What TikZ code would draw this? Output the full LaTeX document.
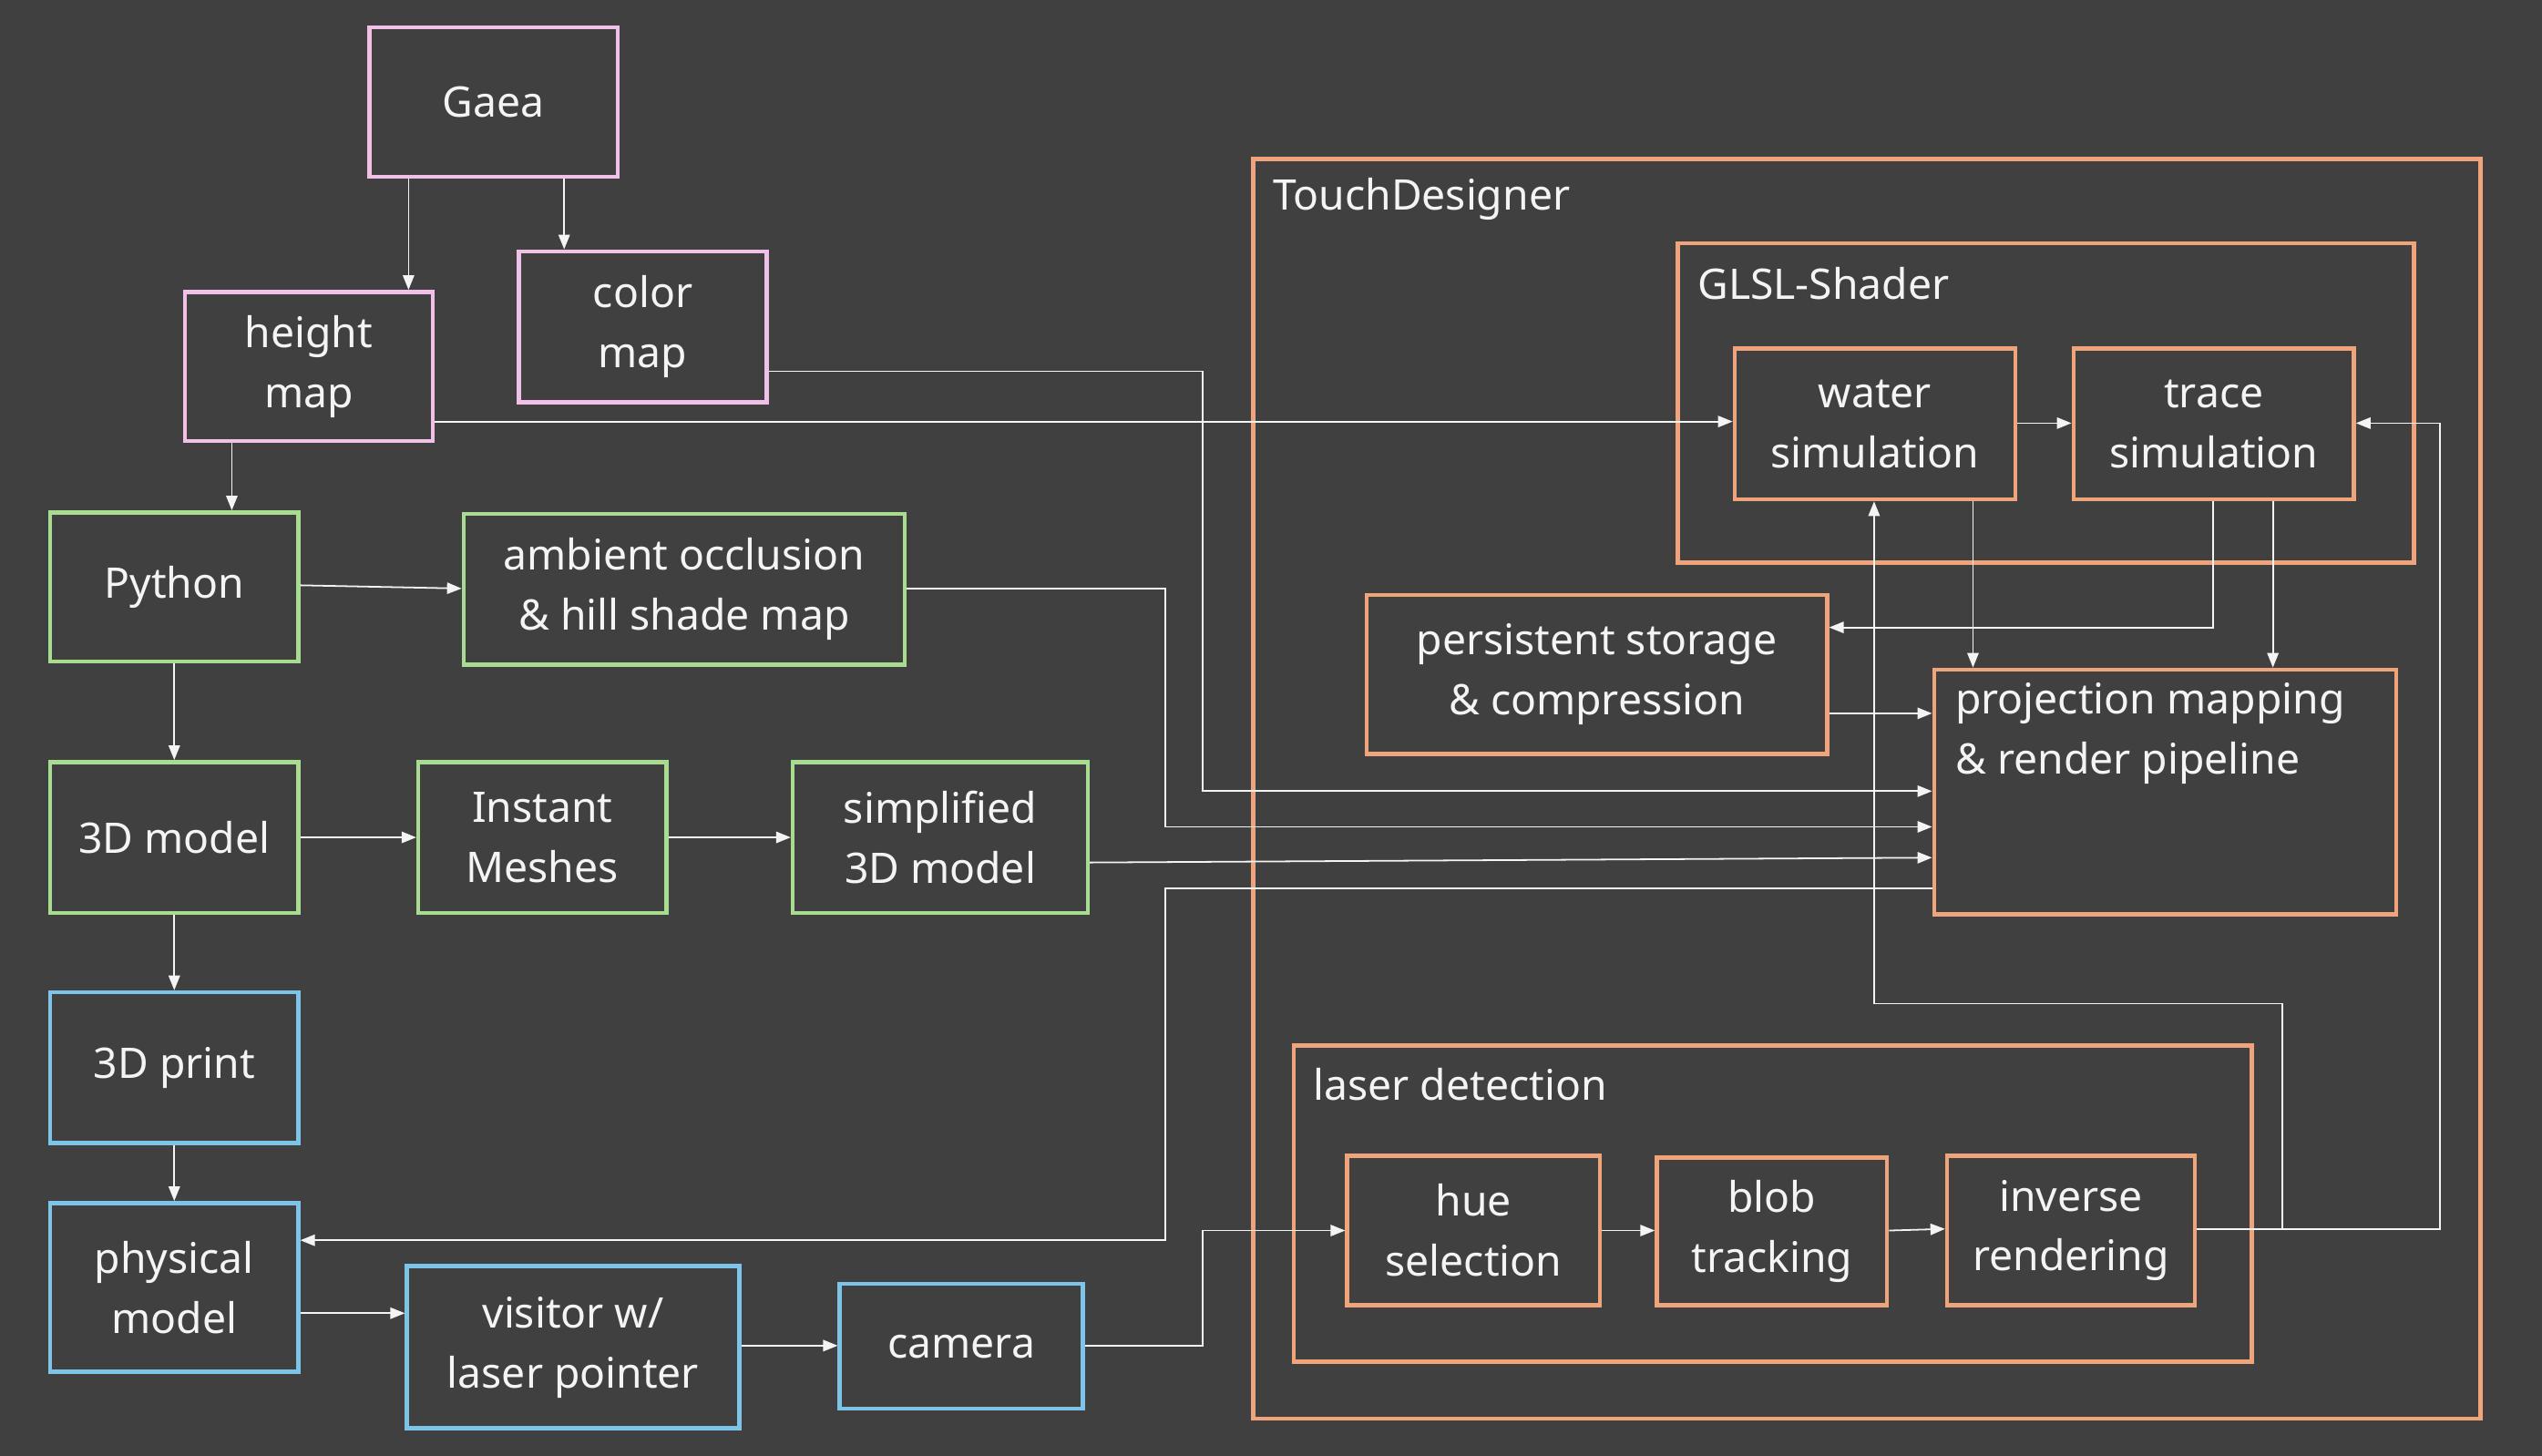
\documentclass[tikz,border=0pt]{standalone}
\usepackage{fontspec}
\setmainfont{Noto Sans}
\usetikzlibrary{arrows.meta}
\definecolor{bg}{HTML}{404040}
\definecolor{pk}{HTML}{F0C0E8}
\definecolor{gr}{HTML}{A8DC90}
\definecolor{bl}{HTML}{7CC4E8}
\definecolor{or}{HTML}{F0A47C}
\definecolor{tx}{HTML}{F4F4F4}
\newcommand{\bx}[7]{\node[box,draw=#6,minimum width={(#4-#2)*1pt},minimum height={(#5-#3)*1pt}] (#1) at ({(#2+#4)/2},{(#3+#5)/2}) {#7};}
\begin{document}
\begin{tikzpicture}[x=1pt,y=-1pt,
  box/.style={rectangle,line width=2.5pt,inner sep=0pt,text=tx,align=center,font=\fontsize{26}{37}\selectfont},
  lbl/.style={text=tx,anchor=west,inner sep=0pt,font=\fontsize{26}{37}\selectfont},
  ar/.style={draw=tx,line width=1pt,-{Triangle[length=9pt,width=7pt]}}]
\fill[bg] (0,0) rectangle (1568,898);
\useasboundingbox (0,0) rectangle (1568,898);
% containers
\draw[or,line width=2.5pt] (773,98) rectangle (1530,875);
\node[lbl] (tdl) at (785,123) {TouchDesigner};
\draw[or,line width=2.5pt] (1035,150) rectangle (1489,347);
\node[lbl] (gll) at (1047,175) {GLSL-Shader};
\draw[or,line width=2.5pt] (798,645) rectangle (1389,840);
\node[lbl] (ldl) at (810,669) {laser detection};
% boxes
\bx{gaea}{228}{17}{381}{109}{pk}{Gaea}
\bx{hm}{114}{180}{267}{272}{pk}{height\\map}
\bx{cm}{320}{155}{473}{248}{pk}{color\\map}
\bx{py}{31}{316}{184}{408}{gr}{Python}
\bx{ao}{286}{317}{558}{410}{gr}{ambient occlusion\\\& hill shade map}
\bx{m3}{31}{470}{184}{563}{gr}{3D model}
\bx{im}{258}{470}{411}{563}{gr}{Instant\\Meshes}
\bx{sm}{489}{470}{671}{563}{gr}{simplified\\3D model}
\bx{pr}{31}{612}{184}{705}{bl}{3D print}
\bx{pm}{31}{742}{184}{846}{bl}{physical\\model}
\bx{vi}{251}{781}{456}{881}{bl}{visitor w/\\laser pointer}
\bx{ca}{518}{792}{668}{869}{bl}{camera}
\bx{ws}{1070}{215}{1243}{308}{or}{water\\simulation}
\bx{ts}{1279}{215}{1452}{308}{or}{trace\\simulation}
\bx{ps}{843}{367}{1127}{465}{or}{persistent storage\\\& compression}
\bx{rp}{1193}{413}{1478}{564}{or}{}
\node[lbl,anchor=north west,align=left] (rpt) at (1206,421) {projection mapping\\\& render pipeline};
\bx{hu}{831}{713}{987}{805}{or}{hue\\selection}
\bx{bt}{1022}{714}{1164}{805}{or}{blob\\tracking}
\bx{ir}{1201}{713}{1354}{805}{or}{inverse\\rendering}
% connectors
\draw[ar] (gaea.south -| 252,0) -- (hm.north -| 252,0);
\draw[ar] (gaea.south -| 348,0) -- (cm.north -| 348,0);
\draw[ar] (hm.south -| 143,0) -- (py.north -| 143,0);
\draw[ar] (hm.east |- 0,260) -- (ws.west |- 0,260);
\draw[ar] (cm.east |- 0,229) -| (742,488) -- (rp.west |- 0,488);
\draw[ar] (py.east |- 0,361) -- (ao.west |- 0,363);
\draw[ar] (ao.east |- 0,363) -| (719,510) -- (rp.west |- 0,510);
\draw[ar] (py.south) -- (m3.north);
\draw[ar] (m3.east) -- (im.west);
\draw[ar] (im.east) -- (sm.west);
\draw[ar] (sm.east |- 0,532) -- (rp.west |- 0,529);
\draw[ar] (rp.west |- 0,548) -| (719,765) -- (pm.east |- 0,765);
\draw[ar] (m3.south) -- (pr.north);
\draw[ar] (pr.south) -- (pm.north);
\draw[ar] (pm.east |- 0,810) -- (vi.west |- 0,810);
\draw[ar] (vi.east |- 0,830) -- (ca.west |- 0,830);
\draw[ar] (ca.east |- 0,830) -| (742,759) -- (hu.west |- 0,759);
\draw[ar] (hu.east |- 0,759) -- (bt.west |- 0,759);
\draw[ar] (bt.east |- 0,759) -- (ir.west |- 0,758);
\draw[ar] (ir.east |- 0,758) -| (1408,619) -| (ws.south -| 1156,0);
\draw[ar] (ir.east |- 0,758) -| (1505,261) -- (ts.east |- 0,261);
\draw[ar] (ws.east |- 0,261) -- (ts.west |- 0,261);
\draw[ar] (ws.south -| 1217,0) -- (rp.north -| 1217,0);
\draw[ar] (ts.south -| 1365,0) |- (ps.east |- 0,387);
\draw[ar] (ts.south -| 1402,0) -- (rp.north -| 1402,0);
\draw[ar] (ps.east |- 0,440) -- (rp.west |- 0,440);
\end{tikzpicture}
\end{document}
